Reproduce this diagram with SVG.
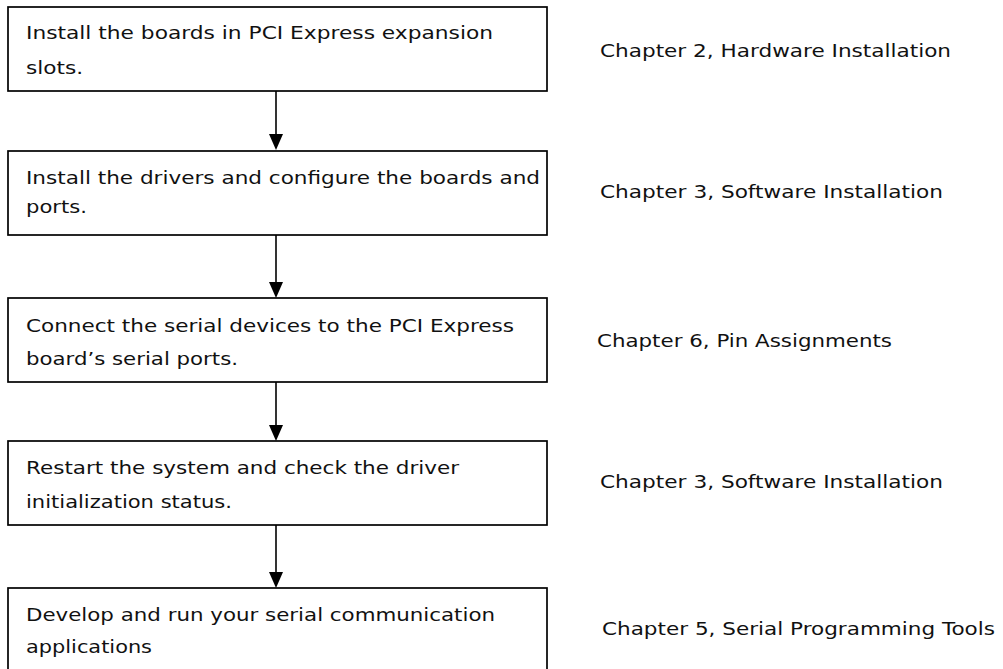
<svg xmlns="http://www.w3.org/2000/svg" width="1003" height="669" viewBox="0 0 1003 669">
<style>
.box{fill:#fff;stroke:#000;stroke-width:1.7}
.t{font-family:"DejaVu Sans",Verdana,sans-serif;font-size:18px;fill:#111}
.c{stroke:#000;stroke-width:1.6;fill:none}
.ah{fill:#000}
</style>
<rect width="1003" height="669" fill="#fff"/>
<g id="connectors">
<line class="c" x1="276" y1="91" x2="276" y2="134"/><path class="ah" d="M269,134 L283,134 L276,150 Z"/>
<line class="c" x1="276" y1="235" x2="276" y2="282"/><path class="ah" d="M269,282 L283,282 L276,298 Z"/>
<line class="c" x1="276" y1="382" x2="276" y2="425"/><path class="ah" d="M269,425 L283,425 L276,441 Z"/>
<line class="c" x1="276" y1="525" x2="276" y2="572"/><path class="ah" d="M269,572 L283,572 L276,588 Z"/>
</g>
<g id="n1">
<rect class="box" x="8" y="7" width="539" height="84"/>
<text class="t" x="26" y="39" textLength="467" lengthAdjust="spacingAndGlyphs">Install the boards in PCI Express expansion</text>
<text class="t" x="26" y="74" textLength="57" lengthAdjust="spacingAndGlyphs">slots.</text>
<text class="t" x="600" y="57" textLength="351" lengthAdjust="spacingAndGlyphs">Chapter 2, Hardware Installation</text>
</g>
<g id="n2">
<rect class="box" x="8" y="151" width="539" height="84"/>
<text class="t" x="26" y="184" textLength="514" lengthAdjust="spacingAndGlyphs">Install the drivers and configure the boards and</text>
<text class="t" x="26" y="213" textLength="61" lengthAdjust="spacingAndGlyphs">ports.</text>
<text class="t" x="600" y="198" textLength="343" lengthAdjust="spacingAndGlyphs">Chapter 3, Software Installation</text>
</g>
<g id="n3">
<rect class="box" x="8" y="298" width="539" height="84"/>
<text class="t" x="26" y="332" textLength="488" lengthAdjust="spacingAndGlyphs">Connect the serial devices to the PCI Express</text>
<text class="t" x="26" y="365" textLength="212" lengthAdjust="spacingAndGlyphs">board’s serial ports.</text>
<text class="t" x="597" y="347" textLength="295" lengthAdjust="spacingAndGlyphs">Chapter 6, Pin Assignments</text>
</g>
<g id="n4">
<rect class="box" x="8" y="441" width="539" height="84"/>
<text class="t" x="26" y="474" textLength="433" lengthAdjust="spacingAndGlyphs">Restart the system and check the driver</text>
<text class="t" x="26" y="508" textLength="206" lengthAdjust="spacingAndGlyphs">initialization status.</text>
<text class="t" x="600" y="488" textLength="343" lengthAdjust="spacingAndGlyphs">Chapter 3, Software Installation</text>
</g>
<g id="n5">
<rect class="box" x="8" y="588" width="539" height="100"/>
<text class="t" x="26" y="621" textLength="469" lengthAdjust="spacingAndGlyphs">Develop and run your serial communication</text>
<text class="t" x="26" y="653" textLength="126" lengthAdjust="spacingAndGlyphs">applications</text>
<text class="t" x="602" y="635" textLength="393" lengthAdjust="spacingAndGlyphs">Chapter 5, Serial Programming Tools</text>
</g>
</svg>
